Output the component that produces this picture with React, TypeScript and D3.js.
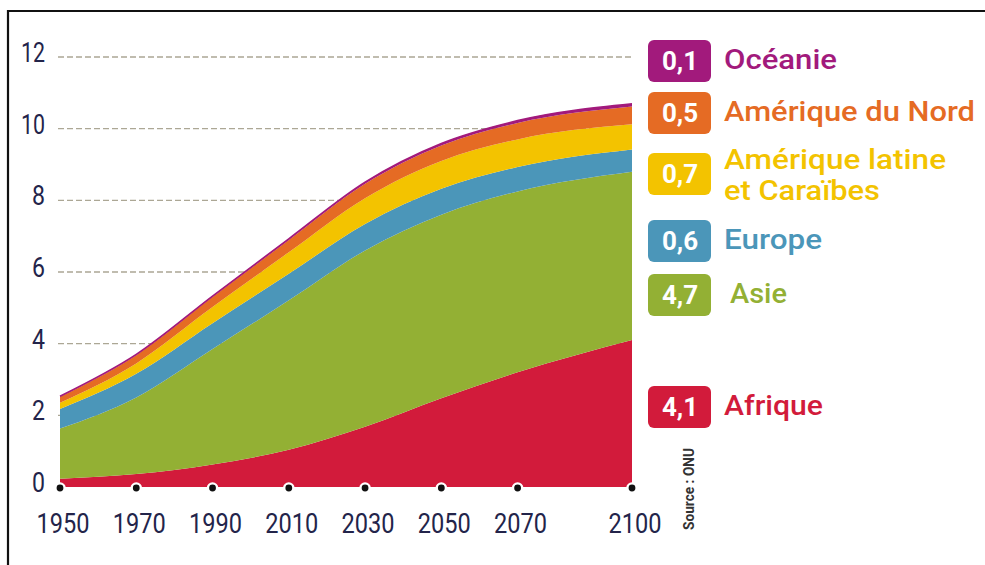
import React, { useEffect, useRef } from 'react';
import * as d3 from 'd3';

// data (milliards d'habitants)
const years = [1950, 1970, 1990, 2010, 2030, 2050, 2070, 2100];
const afrique = [0.23, 0.36, 0.63, 1.04, 1.68, 2.48, 3.2, 4.1];
const asie = [1.4, 2.14, 3.22, 4.17, 4.92, 5.12, 5.05, 4.7];
const europe = [0.55, 0.66, 0.72, 0.74, 0.74, 0.72, 0.68, 0.62];
const ameriqueLatine = [0.17, 0.29, 0.45, 0.6, 0.72, 0.78, 0.77, 0.7];
const ameriqueNord = [0.17, 0.23, 0.28, 0.34, 0.4, 0.43, 0.46, 0.5];
const oceanie = [0.013, 0.02, 0.027, 0.037, 0.048, 0.057, 0.064, 0.072];

const seriesKeys = ['afrique', 'asie', 'europe', 'latine', 'nord', 'oceanie'];
const seriesColors = ['#d21b3b', '#93b034', '#4b96b9', '#f3c300', '#e56b24', '#a21a7c'];
const yTicks = [0, 2, 4, 6, 8, 10, 12];

// legend (valeurs 2100)
const legendNames = [['Océanie'], ['Amérique du Nord'], ['Amérique latine', 'et Caraïbes'], ['Europe'], ['Asie'], ['Afrique']];
const legendValues = [0.1, 0.5, 0.7, 0.6, 4.7, 4.1];
const legendKeys = ['oceanie', 'nord', 'latine', 'europe', 'asie', 'afrique'];

export default function App() {
  const ref = useRef<SVGSVGElement>(null);

  useEffect(() => {
    const svg = d3.select(ref.current);
    svg.selectAll('*').remove();

    const table = years.map((y, i) => ({
      year: y,
      afrique: afrique[i],
      asie: asie[i],
      europe: europe[i],
      latine: ameriqueLatine[i],
      nord: ameriqueNord[i],
      oceanie: oceanie[i],
    }));

    const x = d3.scaleLinear().domain([1950, 2100]).range([60, 632]);
    const y = d3.scaleLinear().domain([0, 12]).range([487, 57]);
    const color = d3.scaleOrdinal<string, string>().domain(seriesKeys).range(seriesColors);
    const numFont = 'Roboto, sans-serif';
    const navy = '#23244a';

    // cadre
    svg.append('line').attr('x1', 8).attr('x2', 985).attr('y1', 11).attr('y2', 11).attr('stroke', '#111').attr('stroke-width', 2.2);
    svg.append('line').attr('x1', 8).attr('x2', 8).attr('y1', 10).attr('y2', 565).attr('stroke', '#111').attr('stroke-width', 2.2);

    // grille
    svg.append('g')
      .selectAll('line')
      .data(yTicks.filter((d) => d > 0))
      .join('line')
      .attr('x1', 58)
      .attr('x2', 634)
      .attr('y1', (d) => y(d))
      .attr('y2', (d) => y(d))
      .attr('stroke', '#aca795')
      .attr('stroke-width', 1.3)
      .attr('stroke-dasharray', '6,3');

    svg.append('g')
      .selectAll('text')
      .data(yTicks)
      .join('text')
      .attr('x', 45)
      .attr('y', (d) => y(d) + 5)
      .attr('text-anchor', 'end')
      .attr('font-family', numFont)
      .attr('font-size', 28)
      .attr('fill', navy)
      .attr('textLength', (d) => (d >= 10 ? 24 : 13))
      .attr('lengthAdjust', 'spacingAndGlyphs')
      .text((d) => d);

    // aires empilées
    const stack = d3.stack<any>().keys(seriesKeys).order(d3.stackOrderNone);
    const layers = stack(table);
    const area = d3
      .area<any>()
      .x((d) => x(d.data.year))
      .y0((d) => y(d[0]))
      .y1((d) => y(d[1]))
      .curve(d3.curveMonotoneX);
    svg.append('g')
      .selectAll('path')
      .data(layers)
      .join('path')
      .attr('fill', (d) => color(d.key))
      .attr('d', area);

    const topLine = d3
      .line<any>()
      .x((d) => x(d.data.year))
      .y((d) => y(d[1]))
      .curve(d3.curveMonotoneX);
    svg.append('path')
      .datum(layers[layers.length - 1])
      .attr('fill', 'none')
      .attr('stroke', color('oceanie'))
      .attr('stroke-width', 1.6)
      .attr('d', topLine);

    // axe des années
    svg.append('g')
      .selectAll('circle')
      .data(years)
      .join('circle')
      .attr('cx', (d) => x(d))
      .attr('cy', 488)
      .attr('r', 4.6)
      .attr('fill', '#111')
      .attr('stroke', '#fff')
      .attr('stroke-width', 2.4);
    svg.append('g')
      .selectAll('text')
      .data(years)
      .join('text')
      .attr('x', (d) => x(d) + 3)
      .attr('y', 533)
      .attr('text-anchor', 'middle')
      .attr('font-family', numFont)
      .attr('font-size', 28)
      .attr('fill', navy)
      .attr('textLength', 53)
      .attr('lengthAdjust', 'spacingAndGlyphs')
      .text((d) => d);

    svg.append('text')
      .attr('transform', 'translate(694,489) rotate(-90)')
      .attr('text-anchor', 'middle')
      .attr('font-family', numFont)
      .attr('font-size', 14)
      .attr('font-weight', 'bold')
      .attr('fill', '#333')
      .attr('textLength', 82)
      .attr('lengthAdjust', 'spacingAndGlyphs')
      .text('Source : ONU');

    // légende
    const centers = [61, 113, 174, 241, 295, 407];
    const widths = [113, 251, 222, 98, 57, 99];
    const fmt = (v: number) => d3.format('.1f')(v).replace('.', ',');
    const lg = svg.append('g').selectAll('g').data(legendKeys).join('g');
    lg.append('rect')
      .attr('x', 648)
      .attr('y', (_, i) => centers[i] - 21)
      .attr('width', 63)
      .attr('height', 42)
      .attr('rx', 6)
      .attr('fill', (d) => color(d));
    lg.append('text')
      .attr('x', 680)
      .attr('y', (_, i) => centers[i] + 9)
      .attr('text-anchor', 'middle')
      .attr('font-family', 'Roboto, sans-serif')
      .attr('font-weight', 'bold')
      .attr('font-size', 26)
      .attr('fill', '#fff')
      .text((_, i) => fmt(legendValues[i]));
    lg.each(function (k, i) {
      const names = legendNames[i];
      const g = d3.select(this);
      names.forEach((n, j) => {
        const base = names.length > 1 ? centers[i] - 5 + j * 31 : centers[i] + 8;
        g.append('text')
          .attr('x', i === 4 ? 730 : 724)
          .attr('y', base)
          .attr('font-family', 'Roboto, sans-serif')
          .attr('font-weight', 500)
          .attr('font-size', 28)
          .attr('fill', color(k))
          .attr('textLength', j === 0 ? widths[i] : 156)
          .attr('lengthAdjust', 'spacingAndGlyphs')
          .text(n);
      });
    });
  }, []);

  return (
    <div style={{ position: 'absolute', left: 0, top: 0, background: '#fff' }}>
      <svg ref={ref} width={985} height={565}></svg>
    </div>
  );
}
